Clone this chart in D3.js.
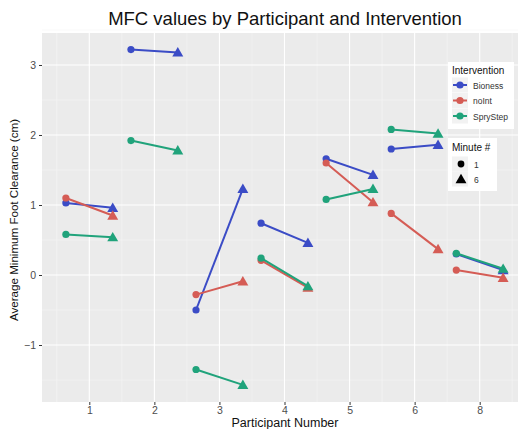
<!DOCTYPE html>
<html>
<head>
<meta charset="utf-8">
<script src="https://cdn.jsdelivr.net/npm/d3@7"></script>
<style>
  body { margin: 0; background: #fff; }
  svg { font-family: "Liberation Sans", Arial, sans-serif; }
  .grid-major line { stroke: #fff; stroke-width: 1.1; }
  .grid-minor line { stroke: #f5f5f5; stroke-width: 0.6; }
  .axis text { fill: #4d4d4d; font-size: 10.5px; }
  .axis line { stroke: #333; }
</style>
</head>
<body>
<svg id="chart" width="518" height="429"></svg>
<script>
// participants on the x axis (7 is missing in the study)
const participants = [1, 2, 3, 4, 5, 6, 8];
const interventions = ["Bioness", "noInt", "SpryStep"];
const colours = ["#3b4cc6", "#d55c55", "#20a37b"];
const minutes = ["1", "6"];

// average MFC (cm) per participant, minute 1 and minute 6
const bioness1 = [1.03, 3.22, -0.50, 0.74, 1.66, 1.80, 0.30];
const bioness6 = [0.96, 3.18, 1.23, 0.46, 1.43, 1.86, 0.07];
const noInt1 = [1.10, null, -0.28, 0.21, 1.60, 0.88, 0.07];
const noInt6 = [0.85, null, -0.09, -0.18, 1.04, 0.37, -0.04];
const spry1 = [0.58, 1.92, -1.35, 0.24, 1.08, 2.08, 0.31];
const spry6 = [0.54, 1.78, -1.57, -0.16, 1.23, 2.02, 0.09];

const yTicks = [-1, 0, 1, 2, 3];

const series = [
  { name: "Bioness", m1: bioness1, m6: bioness6 },
  { name: "noInt", m1: noInt1, m6: noInt6 },
  { name: "SpryStep", m1: spry1, m6: spry6 }
];

const svg = d3.select("#chart");
const panel = { left: 42, top: 33, right: 527, bottom: 402 };
const dodge = 0.36;

var color = d3.scaleOrdinal().domain(interventions).range(colours);
var x = d3.scaleLinear().domain([0.273, 7.727]).range([panel.left, panel.right]);
var y = d3.scaleLinear().domain([-1.814, 3.457]).range([panel.bottom, panel.top]);

// panel background
svg.append("rect")
  .attr("x", panel.left).attr("y", panel.top)
  .attr("width", panel.right - panel.left).attr("height", panel.bottom - panel.top)
  .attr("fill", "#ebebeb");

var xIdx = d3.range(1, participants.length + 1);
var xMinor = d3.range(0.5, participants.length + 1, 1);
var yMinor = d3.range(-1.5, 3.6, 1);

svg.append("g").attr("class", "grid-minor")
  .selectAll("line").data(xMinor).enter().append("line")
  .attr("x1", d => x(d)).attr("x2", d => x(d))
  .attr("y1", panel.top).attr("y2", panel.bottom);
svg.append("g").attr("class", "grid-minor")
  .selectAll("line").data(yMinor).enter().append("line")
  .attr("y1", d => y(d)).attr("y2", d => y(d))
  .attr("x1", panel.left).attr("x2", panel.right);
svg.append("g").attr("class", "grid-major")
  .selectAll("line").data(xIdx).enter().append("line")
  .attr("x1", d => x(d)).attr("x2", d => x(d))
  .attr("y1", panel.top).attr("y2", panel.bottom);
svg.append("g").attr("class", "grid-major")
  .selectAll("line").data(yTicks).enter().append("line")
  .attr("y1", d => y(d)).attr("y2", d => y(d))
  .attr("x1", panel.left).attr("x2", panel.right);

// axes
var xAxis = svg.append("g").attr("class", "axis")
  .attr("transform", "translate(0," + panel.bottom + ")")
  .call(d3.axisBottom(x).tickValues(xIdx).tickSize(3).tickPadding(2)
    .tickFormat(function(d) { return participants[d - 1]; }));
var yAxis = svg.append("g").attr("class", "axis")
  .attr("transform", "translate(" + panel.left + ",0)")
  .call(d3.axisLeft(y).tickValues(yTicks).tickSize(3).tickPadding(3)
    .tickFormat(d3.format("d")));
xAxis.select(".domain").remove();
yAxis.select(".domain").remove();

// lines and points
var sym = d3.symbol().type(d3.symbolTriangle).size(52);
series.forEach(function(s) {
  var c = color(s.name);
  var g = svg.append("g");
  participants.forEach(function(p, i) {
    if (s.m1[i] == null) return;
    var x1 = x(i + 1 - dodge), x2 = x(i + 1 + dodge);
    g.append("line")
      .attr("x1", x1).attr("y1", y(s.m1[i]))
      .attr("x2", x2).attr("y2", y(s.m6[i]))
      .attr("stroke", c).attr("stroke-width", 2);
    g.append("circle")
      .attr("cx", x1).attr("cy", y(s.m1[i])).attr("r", 3.6)
      .attr("fill", c);
    g.append("path")
      .attr("d", sym)
      .attr("transform", "translate(" + x2 + "," + (y(s.m6[i]) + 1) + ")")
      .attr("fill", c);
  });
});

// titles
svg.append("text")
  .attr("x", 285).attr("y", 25)
  .attr("text-anchor", "middle")
  .attr("font-size", 18.5)
  .attr("fill", "#111")
  .text("MFC values by Participant and Intervention");
svg.append("text")
  .attr("x", 285).attr("y", 427)
  .attr("text-anchor", "middle")
  .attr("font-size", 12.5)
  .attr("fill", "#111")
  .text("Participant Number");
svg.append("text")
  .attr("transform", "translate(18,220) rotate(-90)")
  .attr("text-anchor", "middle")
  .attr("font-size", 11.6)
  .attr("fill", "#111")
  .text("Average Minimum Foot Clearance (cm)");

// legend: Intervention
var leg1 = svg.append("g").attr("transform", "translate(448,62)");
leg1.append("rect").attr("width", 66).attr("height", 67).attr("fill", "#fff");
leg1.append("text").attr("x", 4).attr("y", 12).attr("font-size", 10)
  .attr("fill", "#111").text("Intervention");
interventions.forEach(function(name, i) {
  var cy = 23 + i * 15.5;
  var row = leg1.append("g").attr("transform", "translate(0," + cy + ")");
  row.append("rect").attr("x", 4).attr("y", -7.5).attr("width", 16).attr("height", 15)
    .attr("fill", "#f2f2f2");
  row.append("line").attr("x1", 5).attr("x2", 19).attr("stroke", color(name))
    .attr("stroke-width", 2);
  row.append("circle").attr("cx", 12).attr("r", 3.6).attr("fill", color(name));
  row.append("text").attr("x", 25).attr("y", 3.5).attr("font-size", 8.5)
    .attr("fill", "#333").text(name);
});

// legend: Minute #
var leg2 = svg.append("g").attr("transform", "translate(448,138)");
leg2.append("rect").attr("width", 49).attr("height", 53).attr("fill", "#fff");
leg2.append("text").attr("x", 4).attr("y", 13).attr("font-size", 10)
  .attr("fill", "#111").text("Minute #");
minutes.forEach(function(m, i) {
  var cy = 26 + i * 15;
  var row = leg2.append("g").attr("transform", "translate(0," + cy + ")");
  row.append("rect").attr("x", 4).attr("y", -7.5).attr("width", 16).attr("height", 15)
    .attr("fill", "#f2f2f2");
  if (i == 0) {
    row.append("circle").attr("cx", 13).attr("r", 3.4).attr("fill", "#000");
  } else {
    row.append("path").attr("d", sym).attr("transform", "translate(13,1)").attr("fill", "#000");
  }
  row.append("text").attr("x", 26).attr("y", 3.5).attr("font-size", 8.5)
    .attr("fill", "#333").text(m);
});
</script>
</body>
</html>
